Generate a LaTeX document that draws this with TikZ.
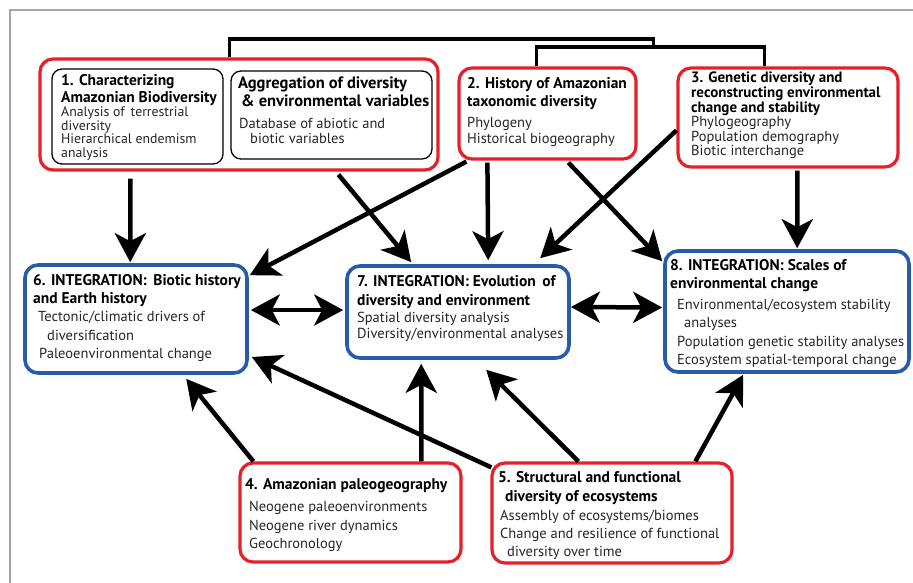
\documentclass[tikz,border=0pt]{standalone}
\usepackage{fontspec}
\setmainfont{PT Sans}
\usetikzlibrary{arrows.meta,calc}
\definecolor{boxred}{RGB}{228,32,42}
\definecolor{boxblue}{RGB}{40,92,170}
\definecolor{txtgray}{RGB}{40,36,38}
\definecolor{framegray}{RGB}{165,165,165}
\tikzset{
  redbox/.style={draw=boxred, line width=3.2pt, rounded corners=13pt, inner sep=0pt},
  bluebox/.style={draw=boxblue, line width=3.6pt, rounded corners=13pt, inner sep=0pt},
  blackbox/.style={draw=black, line width=1.3pt, rounded corners=10pt, inner sep=0pt},
  hd/.style={anchor=base west, inner sep=0pt, text=black, font=\fontsize{15.5}{17}\selectfont\bfseries},
  ln/.style={anchor=base west, inner sep=0pt, text=txtgray, font=\fontsize{14.5}{17}\selectfont},
  conn/.style={line width=4.5pt, black},
  arr/.style={conn, -{Stealth[length=29pt, width=31pt, inset=8pt]}},
  darr/.style={conn, {Stealth[length=29pt, width=31pt, inset=8pt]}-{Stealth[length=29pt, width=31pt, inset=8pt]}},
}
\begin{document}
\begin{tikzpicture}[x=1pt, y=-1pt]
\useasboundingbox (0,0) rectangle (913,583);
\fill[white] (0,0) rectangle (913,583);
% frame
\draw[framegray, line width=2pt] (10,583) -- (10,10) -- (913,10);

% boxes
\node[redbox, minimum width=398pt, minimum height=111pt] (b1) at (239,114.5) {};
\node[blackbox, minimum width=171pt, minimum height=95pt] (b1a) at (137.5,116.5) {};
\node[blackbox, minimum width=201pt, minimum height=88pt] (b1b) at (331.5,115) {};
\node[redbox, minimum width=177pt, minimum height=91pt] (b2) at (547.5,113.5) {};
\node[redbox, minimum width=220pt, minimum height=99pt] (b3) at (788,117.5) {};
\node[bluebox, minimum width=222pt, minimum height=108pt] (b6) at (136,319) {};
\node[bluebox, minimum width=222pt, minimum height=92pt] (b7) at (458,312) {};
\node[bluebox, minimum width=244pt, minimum height=121pt] (b8) at (787,311.5) {};
\node[redbox, minimum width=221pt, minimum height=99pt] (b4) at (350.5,512.5) {};
\node[redbox, minimum width=240pt, minimum height=100pt] (b5) at (612,513) {};

% top bracket connectors
\draw[line width=3.8pt] ($(b1.north west)+(191,0)$) |- ($(b2.north west)+(196,-27)$) -- ($(b2.north west)+(196,-19)$);
\draw[line width=3.8pt] ($(b2.north west)+(79,0)$) |- ($(b3.north west)+(88,-19)$) -- ($(b3.north west)+(88,0)$);

% text box 1a
\node[hd] (t1a) at (61,86) {1. Characterizing};
\node[hd] (t1b) at (61,102.5) {Amazonian Biodiversity};
\node[ln, font=\fontsize{13.8}{15}\selectfont] (t1c) at (61,117) {Analysis of\, terrestrial};
\node[ln, font=\fontsize{13.8}{15}\selectfont] (t1d) at (61,130.5) {diversity};
\node[ln, font=\fontsize{13.8}{15}\selectfont] (t1e) at (61,144) {Hierarchical endemism};
\node[ln, font=\fontsize{13.8}{15}\selectfont] (t1f) at (61,157.5) {analysis};
% box 1b
\node[hd, font=\fontsize{16.5}{18}\selectfont\bfseries] (t1g) at (238,88.5) {Aggregation of diversity};
\node[hd, font=\fontsize{16.5}{18}\selectfont\bfseries] (t1h) at (241,106.5) {\& environmental variables};
\node[ln] (t1i) at (239,128.5) {Database of abiotic and};
\node[ln] (t1j) at (250,143.5) {biotic variables};
% box 2
\node[hd] (t2a) at (467,88.5) {2. History of Amazonian};
\node[hd] (t2b) at (467,106.5) {taxonomic diversity};
\node[ln] (t2c) at (467,127.5) {Phylogeny};
\node[ln] (t2d) at (467,143.5) {Historical biogeography};
% box 3
\node[hd, font=\fontsize{15}{17}\selectfont\bfseries] (t3a) at (691,82.5) {3. Genetic diversity and};
\node[hd, font=\fontsize{15}{17}\selectfont\bfseries] (t3b) at (691,97.5) {reconstructing environmental};
\node[hd, font=\fontsize{15}{17}\selectfont\bfseries] (t3c) at (691,112.5) {change and stability};
\node[ln] (t3d) at (691,127) {Phylogeography};
\node[ln] (t3e) at (691,141.5) {Population demography};
\node[ln] (t3f) at (691,156) {Biotic interchange};
% box 6
\node[hd] (t6a) at (33,285.5) {6. INTEGRATION:\, Biotic history};
\node[hd] (t6b) at (33,303.5) {and Earth history};
\node[ln] (t6c) at (38,321.5) {Tectonic/climatic drivers of};
\node[ln] (t6d) at (47,340.5) {diversification};
\node[ln] (t6e) at (39,358.5) {Paleoenvironmental change};
% box 7
\node[hd] (t7a) at (357,286.5) {7. INTEGRATION: Evolution\, of};
\node[hd] (t7b) at (357,305) {diversity and environment};
\node[ln] (t7c) at (357,322.5) {Spatial diversity analysis};
\node[ln] (t7d) at (357,338.5) {Diversity/environmental analyses};
% box 8
\node[hd] (t8a) at (670,270.5) {8. INTEGRATION: Scales of};
\node[hd] (t8b) at (670,288.5) {environmental change};
\node[ln] (t8c) at (677,309.5) {Environmental/ecosystem stability};
\node[ln] (t8d) at (684,327.5) {analyses};
\node[ln] (t8e) at (677,346.5) {Population genetic stability analyses};
\node[ln] (t8f) at (677,364.5) {Ecosystem spatial-temporal change};
% box 4
\node[hd] (t4a) at (245,489.5) {4. Amazonian paleogeography};
\node[ln] (t4b) at (249,511.5) {Neogene paleoenvironments};
\node[ln] (t4c) at (249,530.5) {Neogene river dynamics};
\node[ln] (t4d) at (249,548.5) {Geochronology};
% box 5
\node[hd] (t5a) at (498,482.5) {5. Structural and functional};
\node[hd] (t5b) at (505,501.5) {diversity of ecosystems};
\node[ln] (t5c) at (500,520.5) {Assembly of ecosystems/biomes};
\node[ln] (t5d) at (500,538.5) {Change and resilience of functional};
\node[ln] (t5e) at (507,556.5) {diversity over time};

% arrows
\draw[arr] ($(b1.south west)+(92,7)$) -- ($(b6.north west)+(107,-1)$);
\draw[arr] ($(b1.south west)+(300,3)$) -- ($(b7.north west)+(66,-2)$);
\draw[arr] ($(b2.south west)+(9,1)$) -- ($(b6.north east)+(1,12)$);
\draw[arr] ($(b2.south west)+(30,2)$) -- ($(b7.north west)+(143,-4)$);
\draw[arr] ($(b2.south west)+(111,2)$) -- ($(b8.north west)+(-1,12)$);
\draw[arr] ($(b3.north west)+(0,64)$) -- ($(b7.north west)+(195,-6)$);
\draw[arr] ($(b3.south west)+(121,2)$) -- ($(b8.north west)+(134,-1)$);
\draw[darr] ($(b6.east)+(2,-9)$) -- ($(b7.west)+(-2,-2)$);
\draw[darr] ($(b7.east)+(0,-5)$) -- ($(b8.west)+(-1,-4)$);
\draw[arr] ($(b4.north west)+(15,0)$) -- ($(b6.south west)+(163,4)$);
\draw[arr] ($(b4.north west)+(183,0)$) -- ($(b7.south west)+(76,4)$);
\draw[arr] ($(b5.north west)+(1,6)$) -- ($(b6.east)+(3,38)$);
\draw[arr] ($(b5.north west)+(88,0)$) -- ($(b7.south west)+(141,10)$);
\draw[arr] ($(b5.north west)+(205,0)$) -- ($(b8.south west)+(80,1)$);
\end{tikzpicture}
\end{document}
